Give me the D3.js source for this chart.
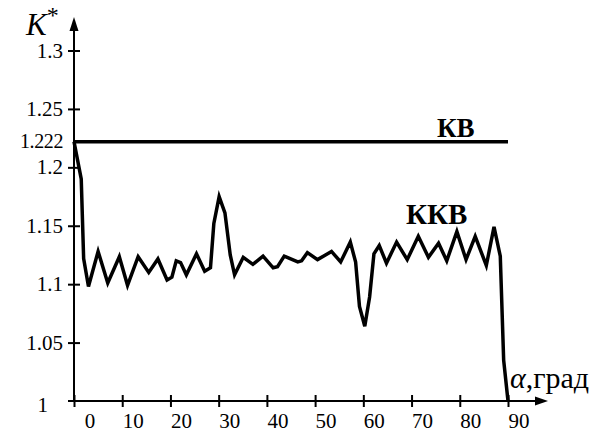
<!DOCTYPE html>
<html>
<head>
<meta charset="utf-8">
<script src="https://cdn.jsdelivr.net/npm/d3@7"></script>
<style>
  html, body { margin: 0; padding: 0; background: #fff; }
  svg { display: block; }
</style>
</head>
<body>
<svg id="chart" width="598" height="432"></svg>
<script>
// Angle of incidence, degrees
const alpha = [0, 1.5, 2, 3, 5, 7, 9.4, 11.1, 13.3, 15.5, 17.4, 19.3, 20.3, 21.2, 22.1,
  23.3, 25.4, 27.1, 28.3, 29, 30.1, 31.3, 32.4, 33.3, 35.1, 37.1, 39.2, 41.3, 42.2,
  43.6, 46.4, 47.2, 48.4, 50.5, 53.4, 55.3, 57.3, 58.4, 59.2, 60.3, 61.3, 62.2, 63.3,
  64.8, 66.9, 69.1, 71.4, 73.5, 75.6, 77.3, 79.4, 81.3, 83.2, 85.5, 87.1, 88.4, 89.1, 90];
// Coefficient K* for the ККВ curve
const kkv = [1.222, 1.19, 1.122, 1.098, 1.128, 1.101, 1.1235, 1.099, 1.1235, 1.110, 1.1216,
  1.1036, 1.106, 1.120, 1.1185, 1.108, 1.126, 1.111, 1.114, 1.152, 1.175, 1.161, 1.125,
  1.108, 1.123, 1.117, 1.124, 1.114, 1.115, 1.124, 1.119, 1.120, 1.127, 1.121, 1.128,
  1.119, 1.136, 1.119, 1.081, 1.064, 1.089, 1.126, 1.133, 1.118, 1.136, 1.121, 1.141,
  1.123, 1.135, 1.120, 1.145, 1.121, 1.141, 1.116, 1.149, 1.124, 1.035, 1.0];
// Constant level КВ
const kvLevel = 1.222;
const kvRange = [0, 90];

const xTicks = [0, 10, 20, 30, 40, 50, 60, 70, 80, 90];
const yTicks = [1.05, 1.1, 1.15, 1.2, 1.25, 1.3];

const FONT = '"Liberation Serif"';

const svg = d3.select("#chart");

const x = d3.scaleLinear().domain([0, 90]).range([74, 508]);
const y = d3.scaleLinear().domain([1, 1.3]).range([401, 50.5]);

function label(sel) {
  return sel.style("font-family", FONT).attr("fill", "#000");
}

// Axes: ticks cross the axis line
const xAxis = svg.append("g")
  .attr("transform", `translate(0,${y(1)})`)
  .call(d3.axisBottom(x).tickValues(xTicks).tickSize(6).tickFormat(""));
xAxis.select(".domain").remove();
xAxis.selectAll(".tick line").attr("y1", -6).attr("y2", 6).attr("stroke", "#000").attr("stroke-width", 2);

const yAxis = svg.append("g")
  .attr("transform", `translate(${x(0)},0)`)
  .call(d3.axisLeft(y).tickValues(yTicks).tickSize(6).tickFormat(""));
yAxis.select(".domain").remove();
yAxis.selectAll(".tick line").attr("x1", -6).attr("x2", 6).attr("stroke", "#000").attr("stroke-width", 2);

// Axis lines with arrowheads
svg.append("line").attr("x1", 68).attr("x2", 538).attr("y1", y(1)).attr("y2", y(1))
  .attr("stroke", "#000").attr("stroke-width", 2);
svg.append("path")
  .attr("d", `M548,${y(1)} L535,${y(1) - 4.5} L535,${y(1) + 4.5} Z`).attr("fill", "#000");
svg.append("line").attr("x1", x(0)).attr("x2", x(0)).attr("y1", y(1)).attr("y2", 28)
  .attr("stroke", "#000").attr("stroke-width", 2);
svg.append("path")
  .attr("d", `M${x(0)},17 L${x(0) - 4.5},31 L${x(0) + 4.5},31 Z`).attr("fill", "#000");

// Tick labels
svg.append("g").selectAll("text").data(xTicks).join("text")
  .call(label)
  .attr("x", d => x(d) + (d === 0 ? 16 : 11))
  .attr("y", 428)
  .attr("text-anchor", "middle")
  .attr("font-size", 21)
  .text(d => d);

svg.append("g").selectAll("text").data(yTicks).join("text")
  .call(label)
  .attr("x", 63)
  .attr("y", d => y(d))
  .attr("dy", "0.34em")
  .attr("text-anchor", "end")
  .attr("font-size", 21)
  .text(d => d);

svg.append("text").call(label).attr("x", 48).attr("y", y(1) + 4).attr("dy", "0.34em")
  .attr("text-anchor", "end").attr("font-size", 21).text("1");

svg.append("text").call(label).attr("x", 63).attr("y", y(kvLevel)).attr("dy", "0.34em")
  .attr("text-anchor", "end").attr("font-size", 20).attr("letter-spacing", -0.4).text(kvLevel);

// Axis titles
const kTitle = svg.append("text").call(label).attr("x", 26).attr("y", 35).attr("font-size", 31);
kTitle.append("tspan").attr("font-style", "italic").text("K");
kTitle.append("tspan").attr("dy", -12).attr("font-size", 24).text("*");

const aTitle = svg.append("text").call(label).attr("x", 510).attr("y", 388).attr("font-size", 30);
aTitle.append("tspan").attr("font-style", "italic").text("α");
aTitle.append("tspan").text(",град");

// КВ level line
svg.append("line")
  .attr("x1", x(kvRange[0])).attr("x2", x(kvRange[1]))
  .attr("y1", y(kvLevel)).attr("y2", y(kvLevel))
  .attr("stroke", "#000").attr("stroke-width", 3.5);

// ККВ curve
const line = d3.line().x(d => x(d[0])).y(d => y(d[1]));
svg.append("path")
  .datum(alpha.map((a, i) => [a, kkv[i]]))
  .attr("d", line)
  .attr("fill", "none")
  .attr("stroke", "#000")
  .attr("stroke-width", 3.5)
  .attr("stroke-linejoin", "miter");

// Series labels
svg.append("text").call(label).attr("x", 437).attr("y", 137).attr("font-size", 27)
  .attr("font-weight", "bold").text("КВ");
svg.append("text").call(label).attr("x", 406).attr("y", 224).attr("font-size", 29)
  .attr("font-weight", "bold").text("ККВ");
</script>
</body>
</html>
